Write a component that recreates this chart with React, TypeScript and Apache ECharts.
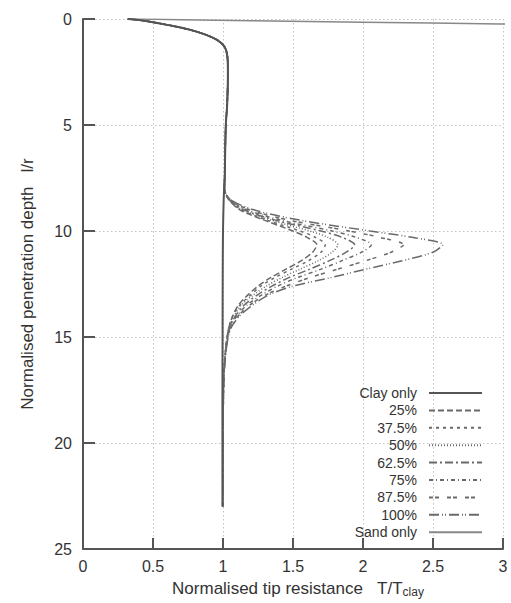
import React, { useEffect, useRef } from "react";
import * as echarts from "echarts";

const xTicks = [0, 0.5, 1, 1.5, 2, 2.5, 3];
const yTicks = [0, 5, 10, 15, 20, 25];

// shared upper part (clay behaviour)
const topDepths = [0, 0.05, 0.15, 0.3, 0.5, 0.75, 1.0, 1.3, 1.7, 2.5, 4, 5, 6.5, 7.5];
const topX = [0.32, 0.4, 0.5, 0.62, 0.76, 0.88, 0.96, 1.01, 1.03, 1.035, 1.03, 1.02, 1.015, 1.012];

const clayDepths = [8.5, 10, 12, 15, 18, 21, 23];
const clayX = [1.005, 1.0, 0.998, 0.997, 0.996, 0.996, 0.996];

const mixDepths = [8.0, 8.5, 9.0, 9.5, 10.0, 10.3, 10.65, 11.0, 11.4, 11.8, 12.2, 12.6, 13.0, 13.5, 14.0, 14.6, 15.5, 17, 20, 23];
const mix25 = [1.01, 1.04, 1.12, 1.3, 1.5, 1.6, 1.67, 1.64, 1.56, 1.45, 1.34, 1.25, 1.18, 1.11, 1.07, 1.04, 1.02, 1.005, 1.0, 0.998];
const mix375 = [1.01, 1.04, 1.13, 1.32, 1.55, 1.66, 1.73, 1.7, 1.61, 1.49, 1.37, 1.27, 1.2, 1.12, 1.07, 1.04, 1.02, 1.005, 1.0, 0.998];
const mix50 = [1.01, 1.04, 1.14, 1.35, 1.62, 1.75, 1.82, 1.78, 1.68, 1.55, 1.42, 1.31, 1.22, 1.13, 1.08, 1.045, 1.02, 1.005, 1.0, 0.998];
const mix625 = [1.01, 1.045, 1.15, 1.38, 1.7, 1.85, 1.94, 1.88, 1.76, 1.62, 1.47, 1.35, 1.25, 1.15, 1.09, 1.045, 1.022, 1.005, 1.0, 0.998];
const mix75 = [1.01, 1.045, 1.17, 1.42, 1.78, 1.95, 2.06, 1.99, 1.85, 1.7, 1.53, 1.39, 1.28, 1.17, 1.1, 1.05, 1.022, 1.006, 1.0, 0.998];
const mix875 = [1.01, 1.05, 1.19, 1.48, 1.9, 2.12, 2.29, 2.2, 2.02, 1.82, 1.62, 1.45, 1.31, 1.19, 1.11, 1.05, 1.024, 1.006, 1.0, 0.998];
const mix100 = [1.01, 1.05, 1.22, 1.56, 2.05, 2.35, 2.57, 2.5, 2.28, 2.02, 1.77, 1.5, 1.33, 1.21, 1.12, 1.055, 1.025, 1.006, 1.0, 0.998];

const sandDepths = [0, 0.03, 0.08, 0.15, 0.23, 0.26];
const sandX = [0.32, 0.7, 1.2, 2.0, 2.98, 3.4];

const seriesNames = ["Clay only", "25%", "37.5%", "50%", "62.5%", "75%", "87.5%", "100%", "Sand only"];
const mixSeries = [mix25, mix375, mix50, mix625, mix75, mix875, mix100];
const mixDash: number[][] = [
  [6, 3],
  [3, 4],
  [1, 2],
  [8, 3, 2, 3],
  [4, 3, 1, 3],
  [4, 2, 4, 8],
  [10, 3, 1, 2, 1, 3],
];

const pairs = (xs: number[], ds: number[]) => xs.map((x, i) => [x, ds[i]]);

export default function App() {
  const ref = useRef<HTMLDivElement>(null);
  useEffect(() => {
    if (!ref.current) return;
    const chart = echarts.init(ref.current, null, { renderer: "svg" });
    const font = "'Liberation Sans', Arial, Helvetica, sans-serif";
    const topPart = pairs(topX, topDepths);
    const series: any[] = [];
    series.push({
      name: seriesNames[0],
      type: "line",
      data: [...topPart, ...pairs(clayX, clayDepths)],
      showSymbol: false,
      symbol: "none",
      smooth: 0.3,
      lineStyle: { color: "#555", width: 2, type: "solid" },
      itemStyle: { color: "#555", opacity: 0 },
      z: 5,
    });
    mixSeries.forEach((vals, i) => {
      series.push({
        name: seriesNames[i + 1],
        type: "line",
        data: [...topPart, ...pairs(vals, mixDepths)],
        showSymbol: false,
        symbol: "none",
        smooth: 0.3,
        lineStyle: { color: "#6a6a6a", width: 1.5, type: mixDash[i] },
        itemStyle: { color: "#6a6a6a", opacity: 0 },
      });
    });
    series.push({
      name: seriesNames[8],
      type: "line",
      data: pairs(sandX, sandDepths),
      showSymbol: false,
      symbol: "none",
      smooth: 0.2,
      lineStyle: { color: "#888", width: 1.5, type: "solid" },
      itemStyle: { color: "#888", opacity: 0 },
    });

    chart.setOption({
      animation: false,
      backgroundColor: "#fff",
      textStyle: { fontFamily: font },
      grid: { left: 83, right: 8, top: 19, bottom: 52, containLabel: false },
      legend: {
        data: seriesNames,
        orient: "vertical",
        right: 28,
        top: 386,
        align: "right",
        padding: 0,
        itemWidth: 53,
        itemHeight: 14,
        itemGap: 3.4,
        selectedMode: false,
        itemStyle: { opacity: 0, borderWidth: 0 },
        textStyle: { fontSize: 14, color: "#333", fontFamily: font, padding: [0, 7, 0, 0] },
      },
      xAxis: {
        type: "value",
        min: 0,
        max: 3,
        interval: 0.5,
        name: "{a|Normalised tip resistance\u00a0\u00a0\u00a0T/T}{b|clay}",
        nameLocation: "middle",
        nameGap: 29,
        nameTextStyle: {
          rich: {
            a: { fontSize: 17, color: "#333", fontFamily: font, padding: [0, 0, 0, 10] },
            b: { fontSize: 12, color: "#333", fontFamily: font, padding: [8, 0, 0, 0] },
          },
        },
        axisLine: { show: true, onZero: false, lineStyle: { color: "#555", width: 2 } },
        axisTick: { show: true, inside: true, length: 11, lineStyle: { color: "#555", width: 2 } },
        axisLabel: {
          fontSize: 16,
          color: "#333",
          margin: 9,
          formatter: (v: number) => (xTicks.includes(v) ? String(v) : ""),
        },
        splitLine: { show: true, lineStyle: { color: "#c4c4c4", width: 1, type: [1.5, 2.5] } },
      },
      yAxis: {
        type: "value",
        min: 0,
        max: 25,
        interval: 5,
        inverse: true,
        name: "Normalised penetration depth\u00a0\u00a0\u00a0l/r",
        nameLocation: "middle",
        nameGap: 47,
        nameTextStyle: { fontSize: 17, color: "#333", fontFamily: font },
        axisLine: { show: true, onZero: false, lineStyle: { color: "#555", width: 2 } },
        axisTick: { show: true, inside: true, length: 12, lineStyle: { color: "#555", width: 2 } },
        axisLabel: {
          fontSize: 16,
          color: "#333",
          margin: 11,
          formatter: (v: number) => (yTicks.includes(v) ? String(v) : ""),
        },
        splitLine: { show: true, lineStyle: { color: "#c4c4c4", width: 1, type: [1.5, 2.5] } },
      },
      series,
    });
    return () => chart.dispose();
  }, []);
  return <div ref={ref} style={{ width: 511, height: 603, position: "absolute", left: 0, top: 0 }} />;
}
